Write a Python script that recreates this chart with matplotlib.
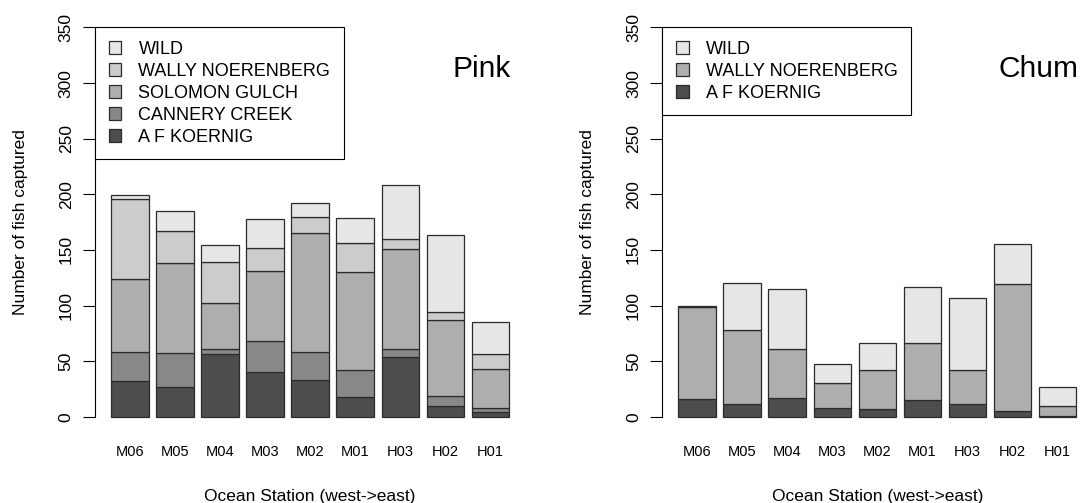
import numpy as np
import matplotlib
matplotlib.use("Agg")
import matplotlib.pyplot as plt

plt.rcParams['font.family'] = ['Liberation Sans', 'DejaVu Sans']

stations = ["M06", "M05", "M04", "M03", "M02", "M01", "H03", "H02", "H01"]

# Pink salmon, stacked bottom -> top
pink_sources = ["A F KOERNIG", "CANNERY CREEK", "SOLOMON GULCH", "WALLY NOERENBERG", "WILD"]
pink_afk = [32, 27, 56, 40, 33, 18, 54, 10, 4]
pink_cc = [26, 30, 5, 28, 25, 24, 7, 9, 4]
pink_sg = [66, 81, 41, 63, 107, 88, 90, 68, 35]
pink_wn = [72, 29, 37, 21, 15, 26, 9, 7, 13]
pink_wild = [3, 18, 15, 26, 12, 23, 48, 69, 29]

# Chum salmon, stacked bottom -> top
chum_sources = ["A F KOERNIG", "WALLY NOERENBERG", "WILD"]
chum_afk = [16, 11, 17, 8, 7, 15, 11, 5, 1]
chum_wn = [83, 67, 44, 22, 35, 51, 31, 114, 9]
chum_wild = [1, 42, 54, 17, 24, 51, 65, 36, 17]

# R gray.colors(n, 0.3, 0.9)
pink_colors = ["#4D4D4D", "#888888", "#AEAEAE", "#CCCCCC", "#E6E6E6"]
chum_colors = ["#4D4D4D", "#AEAEAE", "#E6E6E6"]


def stacked_panel(ax, series, labels, colors, species):
    n = len(stations)
    x = 0.7 + 1.2 * np.arange(n)
    bottom = np.zeros(n)
    handles = []
    for vals, lab, col in zip(series, labels, colors):
        b = ax.bar(x, vals, width=1.0, bottom=bottom, color=col,
                   edgecolor="#2b2b2b", linewidth=0.9, label=lab)
        handles.append(b)
        bottom += np.array(vals)

    ax.set_xlim(-0.224, 1.2 * n + 0.424)
    ax.set_ylim(-14, 364)
    ax.set_xticks(x)
    ax.set_xticklabels(stations, fontsize=10.5)
    ax.tick_params(axis="x", length=0, pad=9)
    ax.set_yticks(np.arange(0, 351, 50))
    ax.set_yticklabels([str(v) for v in range(0, 351, 50)], rotation=90,
                       va="center", fontsize=12.5)
    ax.tick_params(axis="y", length=8.4, width=0.8, pad=7)
    for s in ["top", "right", "bottom"]:
        ax.spines[s].set_visible(False)
    ax.spines["left"].set_bounds(0, 350)
    ax.spines["left"].set_linewidth(0.8)

    ax.set_ylabel("Number of fish captured", fontsize=12.5)
    ax.yaxis.set_label_coords(-0.157, 0.5)
    ax.set_xlabel("Ocean Station (west->east)", fontsize=12.5)
    ax.xaxis.set_label_coords(0.5, -0.134)
    ax.xaxis.label.set_va("top")

    leg = ax.legend(handles[::-1], labels[::-1], loc="upper left",
                    bbox_to_anchor=(-0.224, 350), bbox_transform=ax.transData,
                    borderaxespad=0, fontsize=13, fancybox=False,
                    edgecolor="black", framealpha=1, borderpad=0.75,
                    labelspacing=0.27, handlelength=0.7, handleheight=0.7,
                    handletextpad=0.95)
    leg.get_frame().set_linewidth(0.8)

    ax.text(0.967, 0.846, species, transform=ax.transAxes, ha="right",
            va="baseline", fontsize=21.5)


fig = plt.figure(figsize=(10.8, 5.03), dpi=100)
ax1 = fig.add_axes([0.0881, 0.1406, 0.3982, 0.8357])
ax2 = fig.add_axes([0.6133, 0.1406, 0.3982, 0.8357])

stacked_panel(ax1, [pink_afk, pink_cc, pink_sg, pink_wn, pink_wild],
              pink_sources, pink_colors, "Pink")
stacked_panel(ax2, [chum_afk, chum_wn, chum_wild],
              chum_sources, chum_colors, "Chum")

fig.savefig("out.png", dpi=100)
